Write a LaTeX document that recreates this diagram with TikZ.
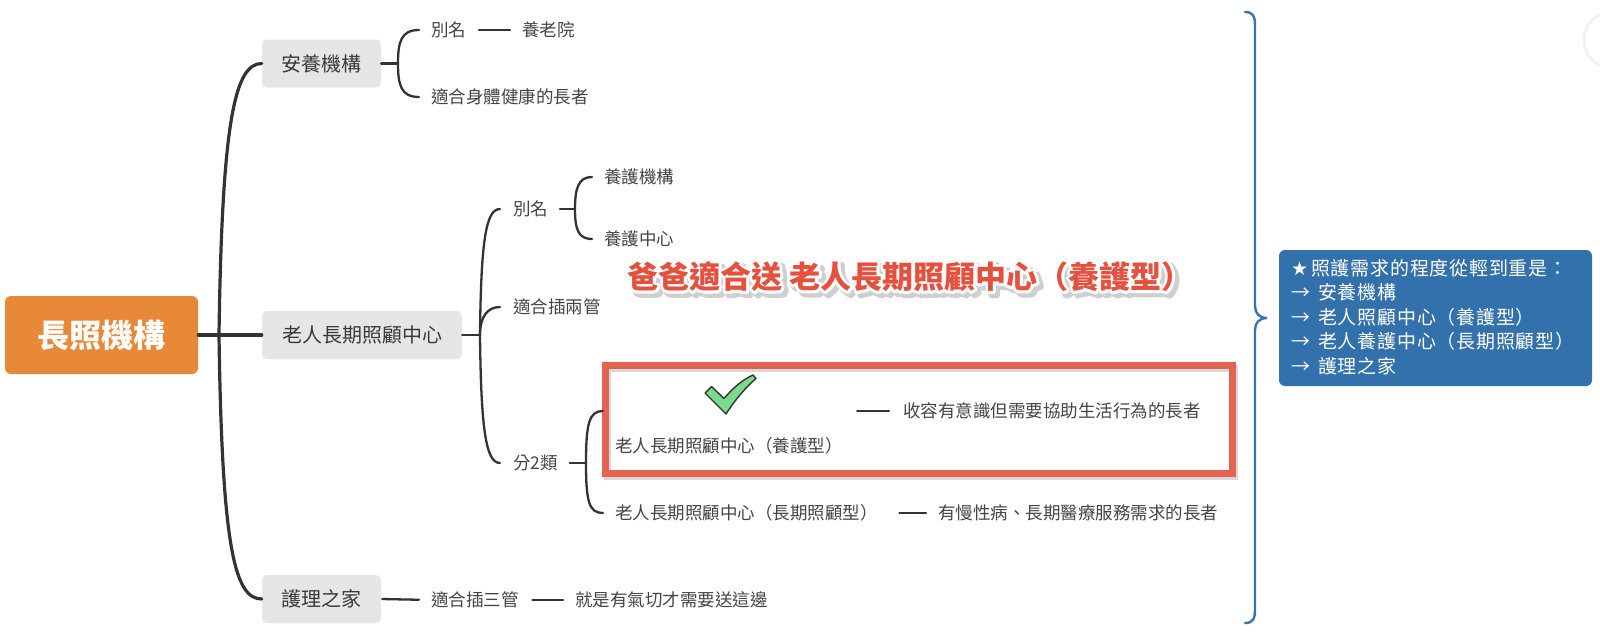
\documentclass[tikz,border=0pt]{standalone}
\usepackage{fontspec}
\newfontfamily\cjk{Noto Sans CJK TC}
\newfontfamily\cjkspaced[LetterSpace=4]{Noto Sans CJK TC}
\newfontfamily\djv{DejaVu Sans}
\definecolor{rootor}{HTML}{E8893A}
\definecolor{boxgray}{HTML}{E6E6E6}
\definecolor{boxtext}{HTML}{3A3A3A}
\definecolor{txtgray}{HTML}{454545}
\definecolor{linec}{HTML}{333333}
\definecolor{redframe}{HTML}{E26352}
\definecolor{bluefill}{HTML}{3371AD}
\definecolor{bracec}{HTML}{3B73B1}
\definecolor{annred}{HTML}{E5513E}
\definecolor{chkgreen}{HTML}{7ADB8C}
\definecolor{shadowgray}{HTML}{CFCFCF}
\newcommand{\anntext}{爸爸適合送 老人長期照顧中心（養護型）}
\newcommand{\fatstroke}[2]{\special{pdf:literal direct 2 Tr #1 w 1 j}#2\special{pdf:literal direct 0 Tr}}
\begin{document}
\begin{tikzpicture}[x=1pt,y=-1pt,
  rootbox/.style={fill=rootor, rounded corners=6pt, text=white, inner sep=0pt,
    minimum width=193pt, minimum height=78pt, font=\cjk\bfseries\fontsize{32}{36}\selectfont},
  graybox/.style={fill=boxgray, rounded corners=5pt, text=boxtext, inner sep=0pt,
    minimum height=48pt, font=\cjk\fontsize{20}{24}\selectfont},
  small/.style={font=\cjk\fontsize{17.5}{21}\selectfont, text=txtgray, inner sep=0pt, outer sep=0pt, anchor=west},
  trunk/.style={draw=linec, line width=3.2pt, line cap=round},
  branch/.style={draw=linec, line width=2.3pt, line cap=round},
  annbase/.style={font=\cjk\bfseries\fontsize{31}{35}\selectfont, inner sep=0pt, anchor=west},
  bluetext/.style={font=\cjkspaced\fontsize{19}{23}\selectfont, text=white, inner sep=0pt, anchor=west},
]
\useasboundingbox (0,0) rectangle (1600,637);
\fill[white] (0,0) rectangle (1600,637);
\draw[gray!10, line width=3pt] (1612,40) ++(110:28) arc[start angle=110, end angle=250, radius=28];

% ---- main nodes
\node[rootbox] (root) at (101.5,335) {長照機構};
\node[graybox, minimum width=119pt] (ay) at (321.5,63.5) {安養機構};
\node[graybox, minimum width=200pt] (oc) at (362,335) {老人長期照顧中心};
\node[graybox, minimum width=119pt] (hl) at (321.5,599) {護理之家};

% ---- trunk
\coordinate (tr) at (219,335);
\draw[trunk] (root.east) -- (oc.west);
\draw[trunk] (tr) .. controls (222,120) and (235,63.5) .. (ay.west);
\draw[trunk] (tr) .. controls (222,550) and (235,599) .. (hl.west);

% ---- 安養機構 children
\node[small] (bm1) at (431,30) {別名};
\node[small] (yl) at (522,30) {養老院};
\node[small] (sh) at (431,97) {適合身體健康的長者};
\coordinate (b1) at (398,63.5);
\draw[branch] (ay.east) -- (b1);
\draw[branch] ([xshift=-12pt]bm1.west) .. controls (401,30) and (398,42) .. (b1)
  .. controls (398,85) and (401,97) .. ([xshift=-12pt]sh.west);
\draw[branch, shorten <=13pt, shorten >=12pt] (bm1.east) -- (yl.west);

% ---- 老人長期照顧中心 children
\node[small] (bm2) at (513,209) {別名};
\node[small] (ch2) at (513,307) {適合插兩管};
\node[small] (f2) at (513,463) {分2類};
\coordinate (s2) at (480,335);
\draw[branch] (oc.east) -- (s2);
\draw[branch] (s2) .. controls (481,240) and (486,209) .. ([xshift=-13pt]bm2.west);
\draw[branch] (s2) .. controls (480,316) and (488,307) .. ([xshift=-13pt]ch2.west);
\draw[branch] (s2) .. controls (481,430) and (486,463) .. ([xshift=-13pt]f2.west);

\node[small] (yhjg) at (604,177) {養護機構};
\node[small] (yhzx) at (604,239) {養護中心};
\coordinate (b2) at (575,209);
\draw[branch, shorten <=12pt] (bm2.east) -- (b2);
\draw[branch] ([xshift=-12pt]yhjg.west) .. controls (578,177) and (575,189) .. (b2)
  .. controls (575,229) and (578,239) .. ([xshift=-12pt]yhzx.west);

% ---- red frame
\draw[shadowgray!80, line width=7pt] (607.5,368.5) rectangle (1234.5,476.5);
\draw[redframe, line width=7pt] (605.5,365.5) rectangle (1232.5,473.5);

% ---- 分2類 children
\node[inner sep=0pt, minimum width=242pt, minimum height=86pt] (yhg) at (724,411) {};
\node[small] (yht) at (615,446) {老人長期照顧中心（養護型）};
\node[small] (sr) at (903,411) {收容有意識但需要協助生活行為的長者};
\node[small] (cq) at (615,513) {老人長期照顧中心（長期照顧型）};
\node[small] (ym) at (938,513) {有慢性病、長期醫療服務需求的長者};
\coordinate (b3) at (586,463);
\draw[branch, shorten <=12pt] (f2.east) -- (b3);
\draw[branch] (yhg.west) .. controls (589,411) and (586,424) .. (b3)
  .. controls (586,502) and (589,513) .. ([xshift=-12pt]cq.west);
\draw[branch, shorten <=12pt, shorten >=14pt] (yhg.east) -- (sr.west);
\draw[branch, shorten <=22pt, shorten >=12pt] (cq.east) -- (ym.west);

% check mark
\filldraw[fill=chkgreen, draw=linec, line width=1.4pt, line join=round]
  (705,393) -- (711.5,386.5) -- (724,398.5) .. controls (733,388) and (742,380) .. (753,375)
  -- (756,378.5) .. controls (745,388) and (735,400) .. (726,414) -- cycle;

% ---- 護理之家 children
\node[small] (c3) at (431,600) {適合插三管};
\node[small] (jx) at (575,600) {就是有氣切才需要送這邊};
\draw[branch, shorten <=1pt, shorten >=12pt] (hl.east) -- (c3.west);
\draw[branch, shorten <=14pt, shorten >=12pt] (c3.east) -- (jx.west);

% ---- annotation (shadow, white outline, red text)
\node[annbase, text=shadowgray] (anns) at (630.5,280) {\fatstroke{7}{\anntext}};
\node[annbase, text=white] (annw) at (627,276.5) {\fatstroke{5.5}{\anntext}};
\node[annbase, text=annred] (ann) at (627,276.5) {\anntext};

% ---- brace and blue note
\draw[bracec, line width=2.4pt, line cap=round]
  (1245,12) .. controls (1253,12) and (1255,16) .. (1255,26) -- (1255,306)
  .. controls (1255,313) and (1259,318) .. (1267,318)
  .. controls (1259,318) and (1255,323) .. (1255,330) -- (1255,609)
  .. controls (1255,619) and (1253,623) .. (1245,623);
\node[fill=bluefill, rounded corners=6pt, minimum width=313pt, minimum height=136pt, inner sep=0pt] (note) at (1435.5,318) {};
\node[bluetext] (n0) at (1291,268) {\makebox[20pt][l]{\djv\fontsize{19}{22}\selectfont ★}照護需求的程度從輕到重是：};
\node[bluetext] (n1) at (1291,292.5) {\makebox[27pt][l]{→}安養機構};
\node[bluetext] (n2) at (1291,317) {\makebox[27pt][l]{→}老人照顧中心（養護型）};
\node[bluetext] (n3) at (1291,341.5) {\makebox[27pt][l]{→}老人養護中心（長期照顧型）};
\node[bluetext] (n4) at (1291,366) {\makebox[27pt][l]{→}護理之家};
\end{tikzpicture}
\end{document}
